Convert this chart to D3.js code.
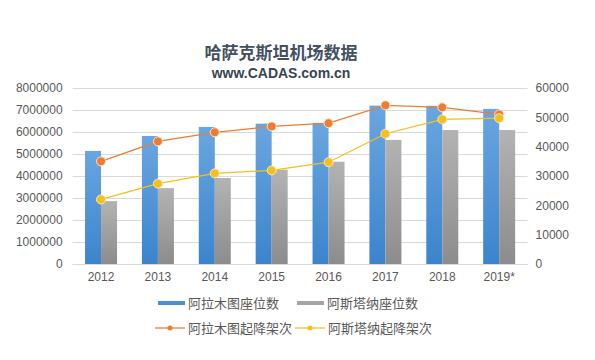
<!DOCTYPE html>
<html><head><meta charset="utf-8">
<script src="https://cdn.jsdelivr.net/npm/d3@7"></script>
<style>body{margin:0;background:#fff}svg{display:block}</style>
</head><body>
<svg id="c" width="595" height="360"></svg>
<script>
const categories = ["2012","2013","2014","2015","2016","2017","2018","2019*"];
const almatySeats = [5140000,5820000,6230000,6380000,6410000,7200000,7190000,7050000];
const astanaSeats = [2860000,3450000,3910000,4290000,4650000,5640000,6090000,6090000];
const almatyFlights = [35000,41800,44900,46900,48000,54100,53400,51000];
const astanaFlights = [22000,27400,30900,31900,34700,44400,49300,49700];
const leftTicks = [0,1000000,2000000,3000000,4000000,5000000,6000000,7000000,8000000];
const rightTicks = [0,10000,20000,30000,40000,50000,60000];
const seriesNames = ["阿拉木图座位数","阿斯塔纳座位数","阿拉木图起降架次","阿斯塔纳起降架次"];
const title = "哈萨克斯坦机场数据";
const subtitle = "www.CADAS.com.cn";

const svg = d3.select("#c");
const m = {l:72.6, r:527.6, t:88, b:264};
const latin = "'Liberation Sans', Arial, sans-serif";
const cjk = "'Noto Sans CJK SC', 'Liberation Sans', sans-serif";

const defs = svg.append("defs");
const gb = defs.append("linearGradient").attr("id","gBlue").attr("x1",0).attr("x2",0).attr("y1",0).attr("y2",1);
gb.append("stop").attr("offset","0%").attr("stop-color","#6aa6e0");
gb.append("stop").attr("offset","100%").attr("stop-color","#3b84cc");
const gg = defs.append("linearGradient").attr("id","gGray").attr("x1",0).attr("x2",0).attr("y1",0).attr("y2",1);
gg.append("stop").attr("offset","0%").attr("stop-color","#b3b3b3");
gg.append("stop").attr("offset","100%").attr("stop-color","#8c8c8c");

const x = d3.scaleBand().domain(categories).range([m.l, m.r]).paddingInner(0).paddingOuter(0);
const yL = d3.scaleLinear().domain([0,8000000]).range([m.b, m.t]);
const yR = d3.scaleLinear().domain([0,60000]).range([m.b, m.t]);
const bw = 16;

// grid
svg.append("g").selectAll("line").data(leftTicks).join("line")
  .attr("x1", m.l).attr("x2", m.r)
  .attr("y1", d=>Math.round(yL(d))+0.5).attr("y2", d=>Math.round(yL(d))+0.5)
  .attr("stroke","#d9d9d9").attr("stroke-width",1);

// left axis
const ax = d3.axisLeft(yL).tickValues(leftTicks).tickFormat(d3.format("d")).tickSize(0).tickPadding(10);
const gL = svg.append("g").attr("transform",`translate(${m.l},0)`).call(ax);
gL.select(".domain").remove();
gL.selectAll("text").attr("fill","#595959").style("font-family",latin).style("font-size","12px");

const axR = d3.axisRight(yR).tickValues(rightTicks).tickFormat(d3.format("d")).tickSize(0).tickPadding(8);
const gR = svg.append("g").attr("transform",`translate(${m.r},0)`).call(axR);
gR.select(".domain").remove();
gR.selectAll("text").attr("fill","#595959").style("font-family",latin).style("font-size","12px");

const axB = d3.axisBottom(x).tickSize(0).tickPadding(8);
const gB = svg.append("g").attr("transform",`translate(0,${m.b})`).call(axB);
gB.select(".domain").remove();
gB.selectAll("text").attr("fill","#595959").style("font-family",latin).style("font-size","12px");

// bars
const cx = d => x(d) + x.bandwidth()/2;
svg.append("g").selectAll("rect").data(categories).join("rect")
  .attr("x", d=>cx(d)-bw).attr("width", bw)
  .attr("y", (d,i)=>yL(almatySeats[i])).attr("height",(d,i)=>m.b-yL(almatySeats[i]))
  .attr("fill","url(#gBlue)");
svg.append("g").selectAll("rect").data(categories).join("rect")
  .attr("x", d=>cx(d)).attr("width", bw)
  .attr("y", (d,i)=>yL(astanaSeats[i])).attr("height",(d,i)=>m.b-yL(astanaSeats[i]))
  .attr("fill","url(#gGray)");

// bottom axis line
svg.append("line").attr("x1",m.l).attr("x2",m.r).attr("y1",m.b+0.5).attr("y2",m.b+0.5).attr("stroke","#d9d9d9");

function lineSeries(vals, color){
  const line = d3.line().x((d,i)=>cx(categories[i])).y(d=>yR(d));
  svg.append("path").datum(vals).attr("d",line).attr("fill","none").attr("stroke",color).attr("stroke-width",1.25);
  svg.append("g").selectAll("circle").data(vals).join("circle")
    .attr("cx",(d,i)=>cx(categories[i])).attr("cy",d=>yR(d)).attr("r",4.5)
    .attr("fill",color).attr("stroke","#fbe3d0").attr("stroke-width",1);
}
lineSeries(almatyFlights, "#ed7d31");
lineSeries(astanaFlights, "#f5c116");

// title
svg.append("text").attr("x",281).attr("y",59).attr("text-anchor","middle")
  .style("font-family",cjk).style("font-weight","bold").style("font-size","17px").attr("fill","#44505f").text(title);
svg.append("text").attr("x",281).attr("y",78).attr("text-anchor","middle")
  .style("font-family",latin).style("font-weight","bold").style("font-size","14px").attr("fill","#3a4454").text(subtitle);

// legend
const lg = svg.append("g");
const items = [
  {x:158, y:303, type:"bar", color:"#4a90d6", name:seriesNames[0]},
  {x:297, y:303, type:"bar", color:"#a5a5a5", name:seriesNames[1]},
  {x:155, y:328, type:"line", color:"#ed7d31", name:seriesNames[2]},
  {x:295, y:328, type:"line", color:"#f5c116", name:seriesNames[3]}
];
items.forEach(it=>{
  if(it.type==="bar"){
    lg.append("rect").attr("x",it.x).attr("y",it.y-2).attr("width",27).attr("height",4).attr("fill",it.color);
  } else {
    lg.append("line").attr("x1",it.x).attr("x2",it.x+30).attr("y1",it.y).attr("y2",it.y).attr("stroke",it.color).attr("stroke-width",1.25);
    lg.append("circle").attr("cx",it.x+15).attr("cy",it.y).attr("r",2.5).attr("fill",it.color);
  }
  lg.append("text").attr("x",it.x+(it.type==="bar"?30:33)).attr("y",it.y).attr("dy","0.35em")
    .style("font-family",cjk).style("font-size","13px").attr("fill","#595959").text(it.name);
});
</script>
</body></html>
